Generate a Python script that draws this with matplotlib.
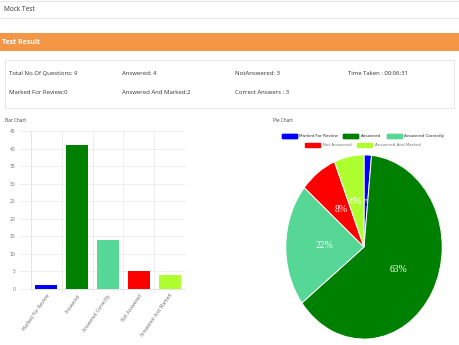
# %% Imports:
import matplotlib.pyplot as plt
import matplotlib.patches as mpatches
import numpy as np

# Data:
categories = ['Marked For Review', 'Answered', 'Answered Correctly', 'Not Answered', 'Answered And Marked']
values = [1, 41, 14, 5, 4]
colors = ['#0000ff', '#008000', '#57d795', '#ff0000', '#adff2f']
yticks = [0, 5, 10, 15, 20, 25, 30, 35, 40, 45]

info_row1 = ['Total No.Of Questions: 9', 'Answered: 4', 'NotAnswered: 3', 'Time Taken : 00:06:31']
info_row2 = ['Marked For Review:0', 'Answered And Marked:2', 'Correct Answers : 3']

# %% Plotting:
W, H = 460, 345
plt.close('all')
fig = plt.figure(figsize=(W/100, H/100), dpi=100)
fig.patch.set_facecolor('white')

def fx(px):
    return px / W

def fy(py):
    return 1 - py / H

page = 'Open Sans'

# header
fig.add_artist(plt.Line2D([0, 1], [fy(1), fy(1)], color='#e6e6e6', lw=0.8))
fig.add_artist(plt.Line2D([0, 1], [fy(18), fy(18)], color='#e6e6e6', lw=0.8))
fig.text(fx(4), fy(9.5), 'Mock Test', fontsize=4.7, family=page, color='#333333', va='center')
fig.add_artist(mpatches.Rectangle((0, fy(51)), 1, (51 - 32.5) / H, color='#f39646', lw=0))
fig.text(fx(2), fy(42), 'Test Result', fontsize=5, family=page, weight='bold', color='white', va='center')

# info box
fig.add_artist(mpatches.Rectangle((fx(5), fy(108)), (454 - 5) / W, (108 - 60) / H,
                                  facecolor='white', edgecolor='#e3e3e3', lw=0.6))
cols = [9, 122, 235, 348]
for i, t in enumerate(info_row1):
    fig.text(fx(cols[i]), fy(73.5), t, fontsize=4.3, family=page, color='#333333', va='center')
for i, t in enumerate(info_row2):
    fig.text(fx(cols[i]), fy(92.5), t, fontsize=4.3, family=page, color='#333333', va='center')

fig.text(fx(5), fy(120), 'Bar Chart', fontsize=3.4, family=page, color='#444444', va='center')
fig.text(fx(273), fy(120), 'Pie Chart', fontsize=3.4, family=page, color='#444444', va='center')

# %% Bar chart
ax = fig.add_axes([fx(31), fy(289), (185 - 31) / W, (289 - 131) / H])
x = np.arange(len(categories))
ax.bar(x, values, width=0.72, color=colors, zorder=3)
ax.set_xlim(-0.5, 4.5)
ax.set_ylim(0, 45)
ax.set_yticks(yticks)
ax.set_xticks(x)
ax.set_xticklabels(categories, rotation=55, ha='right', rotation_mode='anchor')
ax.set_xticks(np.arange(0.5, 4.5, 1), minor=True)
ax.tick_params(axis='y', length=9, color='#ebebeb', width=0.6, labelsize=3.3, labelcolor='#777777', pad=2)
ax.tick_params(axis='x', which='major', length=0, labelsize=3.3, labelcolor='#777777', pad=3)
ax.tick_params(axis='x', which='minor', length=3, color='#ebebeb', width=0.6)
ax.grid(axis='y', color='#ebebeb', lw=0.6, zorder=1)
ax.grid(axis='x', which='minor', color='#ebebeb', lw=0.6, zorder=1)
for s in ['top', 'right']:
    ax.spines[s].set_visible(False)
ax.spines['left'].set_color('#e0e0e0')
ax.spines['bottom'].set_color('#e0e0e0')
ax.spines['left'].set_linewidth(0.6)
ax.spines['bottom'].set_linewidth(0.6)

# %% Pie chart
ax2 = fig.add_axes([fx(285), fy(340), (443 - 285) / W, (340 - 154) / H])
wedges, texts, autotexts = ax2.pie(values, colors=colors, startangle=90, counterclock=False,
                                   autopct='%1.0f%%', pctdistance=0.5,
                                   wedgeprops=dict(edgecolor='white', linewidth=0.7),
                                   textprops=dict(color='white', fontsize=7, family='Liberation Serif'))
ax2.set_aspect('auto')
ax2.set_xlim(-1.01, 1.01)
ax2.set_ylim(-1.01, 1.01)
# the tiny slice's label sits under the neighbouring one, as in the original
autotexts[0].set_zorder(1)
autotexts[0].set_fontsize(5)

# legend
handles = [mpatches.Patch(facecolor=c, edgecolor=c, label=l) for c, l in zip(colors, categories)]
leg_kw = dict(frameon=False, fontsize=3.0, handlelength=3.6, handleheight=1.1,
              handletextpad=0.6, columnspacing=1.3, borderpad=0, labelcolor='#777777')
leg1 = fig.legend(handles=handles[:3], ncol=3, loc='center', bbox_to_anchor=(fx(363), fy(136)), **leg_kw)
fig.add_artist(leg1)
fig.legend(handles=handles[3:], ncol=2, loc='center', bbox_to_anchor=(fx(363), fy(145)), **leg_kw)

plt.savefig('out.png', dpi=100)
